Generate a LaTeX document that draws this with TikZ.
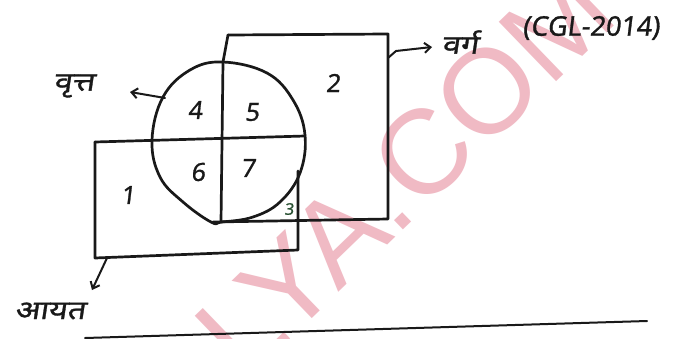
\documentclass[tikz,border=0pt]{standalone}
\usepackage{fontspec}
\newfontfamily\dev[Script=Devanagari,FakeSlant=0.15,FakeStretch=1.25,FakeBold=1.2]{Noto Sans}
\newfontfamily\hand[FakeSlant=0.12,FakeBold=1]{Noto Sans}
\newfontfamily\wm{Liberation Sans}
\usetikzlibrary{arrows.meta}
\definecolor{inkc}{RGB}{25,25,25}
\definecolor{wmc}{RGB}{240,186,196}
\definecolor{grn}{RGB}{40,80,50}
\tikzset{
  ink/.style={line width=2.7pt, draw=inkc, line join=round, line cap=round},
  num/.style={font=\hand\fontsize{25}{25}\selectfont, text=inkc, inner sep=0pt},
  lab/.style={font=\dev\fontsize{26}{26}\selectfont, text=inkc, inner sep=0pt},
  wmark/.style={text=wmc, font=\wm\fontsize{120}{120}\selectfont, rotate=44, inner sep=0pt},
  arr/.style={ink, line width=2pt, -{Straight Barb[length=6pt,width=10pt,line width=2pt]}},
}
\begin{document}
\begin{tikzpicture}[x=1pt,y=-1pt]
\path[use as bounding box, fill=white] (0,0) rectangle (687,338);
% watermark
\node[wmark, anchor=base east] (wma) at (420,214) {ALYA.};
\node[wmark, anchor=base west] (wmb) at (420,214) {COM};
% square (its left edge runs on as the circle's vertical division)
\draw[ink] (228,35) -- (388,34) -- (388,219) -- (213,222);
\draw[ink] (228,35) -- (223,62) -- (221,222);
% circle
\draw[ink] plot[smooth cycle, tension=0.65] coordinates {(223,62) (267,73) (293,100) (305,135) (300,173) (280,202) (253,217) (222,222) (211,222) (183,202) (160,177) (152,140) (163,97) (190,70)};
% rectangle (its top edge runs on as the circle's horizontal division)
\draw[ink] (95,142) -- (305,136);
\draw[ink] (95,142) -- (95,258) -- (298,250) -- (298,171);
% numbers
\node[num] (n1) at (128,195) {1};
\node[num] (n2) at (333,83) {2};
\node[num, text=grn, font=\hand\fontsize{16}{16}\selectfont] (n3) at (289,209) {3};
\node[num] (n4) at (195,110) {4};
\node[num] (n5) at (252,112) {5};
\node[num] (n6) at (198,172) {6};
\node[num] (n7) at (248,168) {7};
% labels
\node[lab] (vrtt) at (74,86) {वृत्त};
\node[lab] (varg) at (460,42) {वर्ग};
\node[lab] (ayat) at (50,311) {आयत};
\node[font=\hand\fontsize{27}{27}\selectfont, text=inkc, inner sep=0pt] (cgl) at (591,28) {(CGL-2014)};
% arrows
\coordinate (cv) at (165,98);
\coordinate (cvt) at (130,92);
\draw[arr] (cv) -- (cvt);
\coordinate (sv) at (388,58);
\coordinate (svt) at (432,47);
\draw[arr] (sv) -- (396,51) -- (svt);
\coordinate (rv) at (107,258);
\coordinate (rvt) at (92,290);
\draw[arr] (rv) -- (rvt);
% underline
\draw[ink, line width=2pt] (85,338) -- (647,321);
\end{tikzpicture}
\end{document}
